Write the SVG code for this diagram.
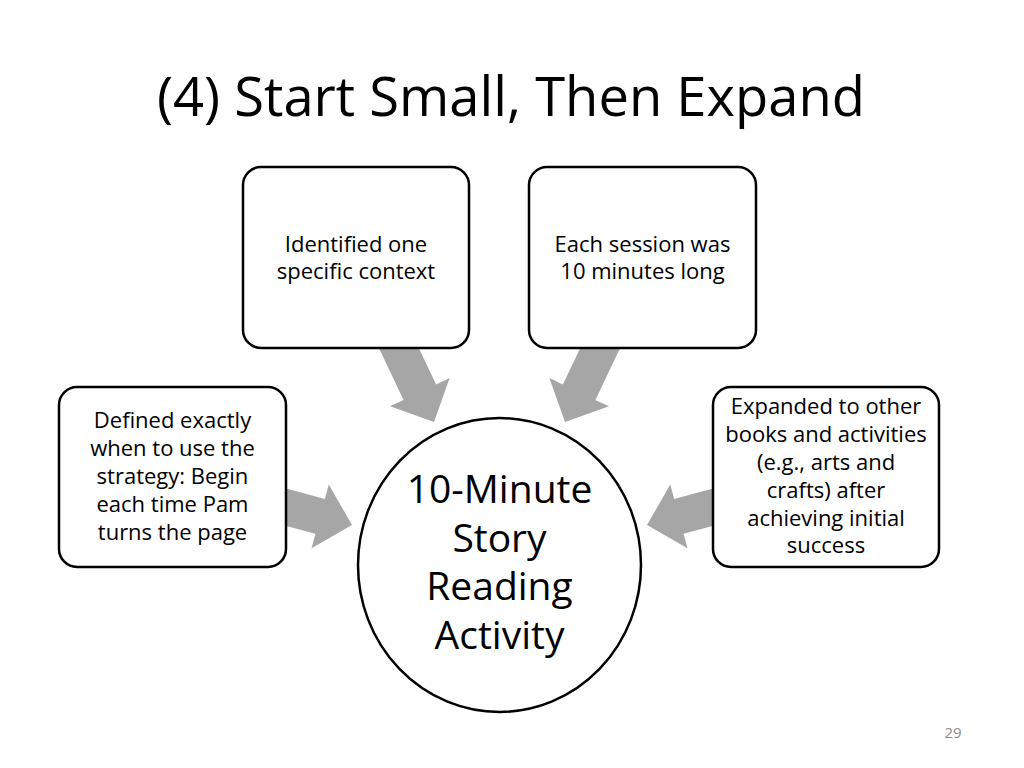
<svg xmlns="http://www.w3.org/2000/svg" xmlns:xlink="http://www.w3.org/1999/xlink" width="1024" height="768" viewBox="0 0 1024 768">
  <style>
    .box { fill: #ffffff; stroke: #000000; stroke-width: 2.5; }
    .lbl { font-family: "Open Sans", "Liberation Sans", sans-serif; font-size: 22px; fill: #000000; text-anchor: middle; }
    .big { font-family: "Open Sans", "Liberation Sans", sans-serif; font-size: 39px; fill: #000000; text-anchor: middle; }
    .title { font-family: "Open Sans", "Liberation Sans", sans-serif; font-size: 54px; fill: #000000; text-anchor: middle; }
    .num { font-family: "Open Sans", "Liberation Sans", sans-serif; font-size: 15px; fill: #8c8c8c; text-anchor: middle; }
    .arrow { fill: #a6a6a6; }
  </style>
  <defs>
    <polygon id="arrowShape" points="0,0 -33,-33 -33,-18 -95,-18 -95,18 -33,18 -33,33"/>
  </defs>
  <rect width="1024" height="768" fill="#ffffff"/>

  <text class="title" x="511" y="116" textLength="708" lengthAdjust="spacingAndGlyphs">(4) Start Small, Then Expand</text>

  <g id="connectors" class="arrow">
    <use xlink:href="#arrowShape" href="#arrowShape" transform="translate(434,422) rotate(64.6)"/>
    <use xlink:href="#arrowShape" href="#arrowShape" transform="translate(565,422) rotate(115.4)"/>
    <use xlink:href="#arrowShape" href="#arrowShape" transform="translate(352,525) rotate(15.1)"/>
    <use xlink:href="#arrowShape" href="#arrowShape" transform="translate(647,525) rotate(164.9)"/>
  </g>

  <g id="node-context">
    <rect class="box" x="243" y="167" width="226" height="181" rx="18" ry="18"/>
    <text class="lbl" x="356" y="252">Identified one</text>
    <text class="lbl" x="356" y="279">specific context</text>
  </g>

  <g id="node-session">
    <rect class="box" x="529" y="167" width="227" height="181" rx="18" ry="18"/>
    <text class="lbl" x="642.5" y="252">Each session was</text>
    <text class="lbl" x="642.5" y="279">10 minutes long</text>
  </g>

  <g id="node-defined">
    <rect class="box" x="59" y="387" width="227" height="180" rx="18" ry="18"/>
    <text class="lbl" x="172.5" y="428">Defined exactly</text>
    <text class="lbl" x="172.5" y="456">when to use the</text>
    <text class="lbl" x="172.5" y="484">strategy: Begin</text>
    <text class="lbl" x="172.5" y="512">each time Pam</text>
    <text class="lbl" x="172.5" y="540">turns the page</text>
  </g>

  <g id="node-expanded">
    <rect class="box" x="713" y="387" width="226" height="180" rx="18" ry="18"/>
    <text class="lbl" x="826" y="414">Expanded to other</text>
    <text class="lbl" x="826" y="442">books and activities</text>
    <text class="lbl" x="826" y="470">(e.g., arts and</text>
    <text class="lbl" x="826" y="498">crafts) after</text>
    <text class="lbl" x="826" y="526">achieving initial</text>
    <text class="lbl" x="826" y="553">success</text>
  </g>

  <g id="node-center">
    <ellipse class="box" cx="499.5" cy="565" rx="141.5" ry="147"/>
    <text class="big" x="499.5" y="503">10-Minute</text>
    <text class="big" x="499.5" y="552">Story</text>
    <text class="big" x="499.5" y="600">Reading</text>
    <text class="big" x="499.5" y="649">Activity</text>
  </g>

  <text class="num" x="953" y="738">29</text>
</svg>
